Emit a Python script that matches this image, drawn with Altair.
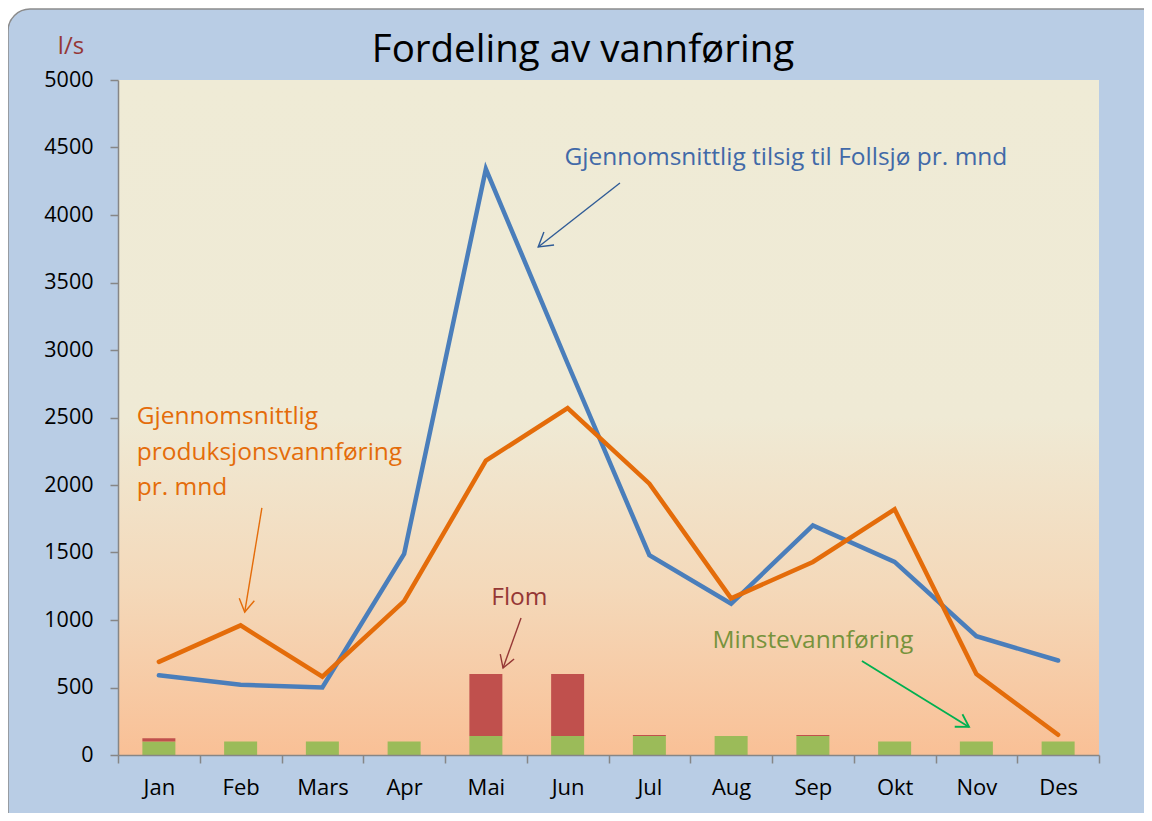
import math
import altair as alt
import pandas as pd

# ---------------- data ----------------
months = ["Jan", "Feb", "Mars", "Apr", "Mai", "Jun", "Jul", "Aug", "Sep", "Okt", "Nov", "Des"]
tilsig = [590, 520, 500, 1490, 4340, 2900, 1480, 1120, 1700, 1430, 880, 700]
produksjon = [690, 960, 580, 1140, 2180, 2570, 2010, 1160, 1430, 1820, 600, 150]
minstevannforing = [100, 100, 100, 100, 140, 140, 140, 140, 140, 100, 100, 100]
flom = [25, 0, 0, 0, 460, 460, 8, 0, 8, 0, 0, 0]

y_ticks = [0, 500, 1000, 1500, 2000, 2500, 3000, 3500, 4000, 4500, 5000]

title_text = "Fordeling av vannføring"
unit_text = "l/s"

# annotations in data units (x: month position 0..12, y: l/s)
ann_blue_text = {"x": 8.17, "y": 4422, "t": "Gjennomsnittlig tilsig til Follsjø pr. mnd"}
ann_blue_arrow = {"x": 6.14, "y": 4237, "x2": 5.14, "y2": 3763}
ann_orange_lines = ["Gjennomsnittlig", "produksjonsvannføring", "pr. mnd"]
ann_orange_y = [2504, 2237, 1978]
ann_orange_x = 0.23
ann_orange_arrow = {"x": 1.76, "y": 1830, "x2": 1.55, "y2": 1059}
ann_flom_text = {"x": 4.91, "y": 1163, "t": "Flom"}
ann_flom_arrow = {"x": 4.93, "y": 1015, "x2": 4.71, "y2": 644}
ann_min_text = {"x": 8.50, "y": 844, "t": "Minstevannføring"}
ann_min_arrow = {"x": 9.10, "y": 697, "x2": 10.41, "y2": 208}

# ---------------- style ----------------
W, H = 981, 675
PAD = {"left": 110, "top": 72, "right": 45, "bottom": 58}
FONT = "Open Sans"
ANN_SIZE = 24.5
BLUE = "#4A7EBB"
ORANGE = "#E46C0A"
GREEN = "#9BBB59"
RED = "#C0504D"
AXIS = "#868686"

lines_df = pd.DataFrame({
    "month": months * 2,
    "series": ["Tilsig"] * 12 + ["Produksjon"] * 12,
    "value": tilsig + produksjon,
})
bars_df = pd.DataFrame({
    "month": months * 2,
    "component": ["Minstevannføring"] * 12 + ["Flom"] * 12,
    "ord": [0] * 12 + [1] * 12,
    "value": minstevannforing + flom,
})

one = pd.DataFrame({"a": [0]})

# background panel (rounded box) and plot-area gradient
panel = alt.Chart(one).mark_rect(
    fill="#B9CDE5", stroke="#8C8C8C", strokeWidth=1.5, cornerRadius=22
).encode(
    x=alt.value(-PAD["left"]), y=alt.value(-PAD["top"] + 1),
    x2=alt.value(W + 400), y2=alt.value(H + 400),
)
plot_bg = alt.Chart(one).mark_rect(
    fill=alt.Gradient(
        gradient="linear", x1=0, x2=0, y1=0, y2=1,
        stops=[
            alt.GradientStop(offset=0, color="#EFEBD6"),
            alt.GradientStop(offset=0.5, color="#EFEAD5"),
            alt.GradientStop(offset=0.75, color="#F4D9BA"),
            alt.GradientStop(offset=1, color="#F9C096"),
        ],
    )
).encode(x=alt.value(0), x2=alt.value(W), y=alt.value(0), y2=alt.value(H))

x_enc = alt.X(
    "month:N", sort=months,
    scale=alt.Scale(paddingInner=0, paddingOuter=0),
    axis=alt.Axis(
        title=None, labelAngle=0, labelFont=FONT, labelFontSize=22, labelColor="#000000",
        domainColor=AXIS, domainWidth=1.5, tickColor=AXIS, tickWidth=1.5, tickSize=8,
        tickBand="extent", labelPadding=14, grid=False, zindex=2,
    ),
)
y_scale = alt.Scale(domain=[0, 5000], nice=False)

bars = alt.Chart(bars_df).mark_bar(size=33).encode(
    x=x_enc,
    y=alt.Y(
        "value:Q", stack="zero", scale=y_scale,
        axis=alt.Axis(
            title=None, values=y_ticks, format="d", labelFont=FONT, labelFontSize=21.5,
            labelColor="#000000", domainColor=AXIS, domainWidth=1.5, tickColor=AXIS,
            tickWidth=1.5, tickSize=8, labelPadding=17, grid=False, zindex=2,
        ),
    ),
    color=alt.Color(
        "component:N",
        scale=alt.Scale(domain=["Minstevannføring", "Flom"], range=[GREEN, RED]),
        legend=None,
    ),
    order=alt.Order("ord:Q"),
)

lines = alt.Chart(lines_df).mark_line(strokeWidth=4.5, strokeCap="round").encode(
    x=alt.X("month:N", sort=months),
    y=alt.Y("value:Q", scale=y_scale),
    stroke=alt.Stroke(
        "series:N",
        scale=alt.Scale(domain=["Tilsig", "Produksjon"], range=[BLUE, ORANGE]),
        legend=None,
    ),
)

mx = alt.Scale(domain=[0, 12], nice=False, zero=False)


def text_layer(d, color, size=ANN_SIZE, align="center"):
    df = pd.DataFrame([d])
    return alt.Chart(df).mark_text(
        font=FONT, fontSize=size, color=color, align=align, baseline="middle"
    ).encode(
        x=alt.X("x:Q", scale=mx, axis=None),
        y=alt.Y("y:Q", scale=y_scale),
        text="t:N",
    )


def arrow_layer(a, color, width=1.4, head=750):
    df = pd.DataFrame([a])
    dxp = (a["x2"] - a["x"]) * W / 12
    dyp = -(a["y2"] - a["y"]) * H / 5000
    ang = math.degrees(math.atan2(dyp, dxp)) % 360
    shaft = alt.Chart(df).mark_rule(stroke=color, strokeWidth=width).encode(
        x=alt.X("x:Q", scale=mx, axis=None),
        y=alt.Y("y:Q", scale=y_scale),
        x2="x2:Q", y2="y2:Q",
    )
    tip = alt.Chart(df).mark_point(
        shape="M -1 -0.6 L 0 0 L -1 0.6", filled=False, stroke=color,
        strokeWidth=width, size=head, angle=ang, opacity=1,
    ).encode(
        x=alt.X("x2:Q", scale=mx, axis=None),
        y=alt.Y("y2:Q", scale=y_scale),
    )
    return shaft + tip


orange_df = pd.DataFrame({"x": [ann_orange_x] * 3, "y": ann_orange_y, "t": ann_orange_lines})
orange_text = alt.Chart(orange_df).mark_text(
    font=FONT, fontSize=ANN_SIZE, color=ORANGE, align="left", baseline="middle"
).encode(
    x=alt.X("x:Q", scale=mx, axis=None),
    y=alt.Y("y:Q", scale=y_scale),
    text="t:N",
)

annotations = alt.layer(
    text_layer(ann_blue_text, "#4169A8"),
    arrow_layer(ann_blue_arrow, "#2F5B96"),
    orange_text,
    arrow_layer(ann_orange_arrow, ORANGE, head=650),
    text_layer(ann_flom_text, "#953735"),
    arrow_layer(ann_flom_arrow, "#953735", head=600),
    text_layer(ann_min_text, "#77933C"),
    arrow_layer(ann_min_arrow, "#00B050", width=1.8, head=600),
)

title = alt.Chart(one).mark_text(
    font=FONT, fontSize=38.5, color="#000000", align="center", baseline="middle"
).encode(x=alt.value(583 - 118), y=alt.value(50 - 80), text=alt.value(title_text))
unit = alt.Chart(one).mark_text(
    font=FONT, fontSize=24, color="#953735", align="center", baseline="middle"
).encode(x=alt.value(71 - 118), y=alt.value(47 - 80), text=alt.value(unit_text))

chart = alt.layer(
    panel, plot_bg, bars, lines, annotations, title, unit
).resolve_scale(
    x="independent", color="independent", stroke="independent"
).properties(
    width=W, height=H,
    autosize=alt.AutoSizeParams(type="none"),
    padding=PAD,
    background="white",
).configure_view(stroke=None)

chart.save("out.html", embed_options={"renderer": "svg", "actions": False})
